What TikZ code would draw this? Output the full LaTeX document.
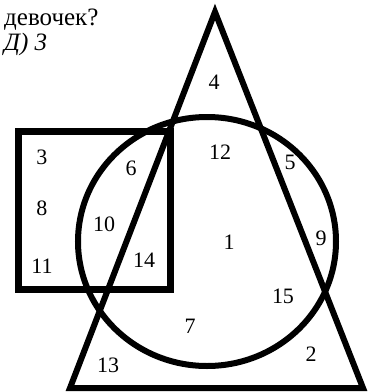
\documentclass[tikz,border=0pt]{standalone}
\usepackage{fontspec}
\setmainfont{Liberation Serif}
\usepackage{tikz}
\usetikzlibrary{positioning}

\begin{document}
\begin{tikzpicture}[
    x=1pt, y=-1pt,
    shape line/.style={draw=black, line width=6pt, line join=miter},
    box line/.style={draw=black, line width=7pt},
    region/.style={font=\fontsize{22}{24}\selectfont, inner sep=0pt},
    question/.style={font=\fontsize{25}{28}\selectfont, inner sep=0pt, anchor=base west}
]
\useasboundingbox (0,0) rectangle (370,392);

% the three sets
\draw[box line] (18,131) rectangle (170,289);
\draw[shape line] (215,12) -- (363,388) -- (70,388) -- cycle;
\draw[shape line] (207,241.5) ellipse [x radius=129, y radius=124.5];

% question text
\node[question] (qline) at (4,25) {девочек?};
\node[question] (answer) at (4,50) {\itshape Д) 3};

% numbers in the regions
\node[region] (r4) at (214,82) {4};
\node[region] (r12) at (220,152) {12};
\node[region] (r5) at (290,162) {5};
\node[region] (r6) at (131,168) {6};
\node[region] (r3) at (42,157) {3};
\node[region] (r8) at (42,208) {8};
\node[region] (r10) at (104,224) {10};
\node[region] (r1) at (229,242) {1};
\node[region] (r9) at (321,238) {9};
\node[region] (r14) at (144,260) {14};
\node[region] (r11) at (42,266) {11};
\node[region] (r15) at (283,296) {15};
\node[region] (r7) at (190,326) {7};
\node[region] (r2) at (311,354) {2};
\node[region] (r13) at (108,365) {13};
\end{tikzpicture}
\end{document}
